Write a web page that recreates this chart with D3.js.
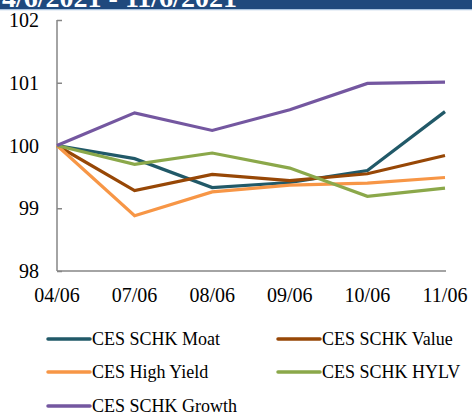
<!DOCTYPE html>
<html>
<head>
<meta charset="utf-8">
<script src="https://cdn.jsdelivr.net/npm/d3@7"></script>
<style>
  html, body { margin: 0; padding: 0; background: #fff; overflow: hidden; }
</style>
</head>
<body>
<svg id="chart" width="472" height="414"></svg>
<script>
const dates = ["04/06", "07/06", "08/06", "09/06", "10/06", "11/06"];
const yTicks = [98, 99, 100, 101, 102];

const moat = [100, 99.79, 99.33, 99.41, 99.60, 100.54];
const value = [100, 99.28, 99.54, 99.44, 99.55, 99.84];
const highYield = [100, 98.88, 99.26, 99.37, 99.40, 99.49];
const hylv = [100, 99.70, 99.88, 99.64, 99.19, 99.32];
const growth = [100, 100.52, 100.24, 100.57, 100.99, 101.01];

const series = [
  { name: "CES SCHK Moat", values: moat, color: "#215968" },
  { name: "CES SCHK Value", values: value, color: "#974706" },
  { name: "CES High Yield", values: highYield, color: "#F79646" },
  { name: "CES SCHK HYLV", values: hylv, color: "#8BA84A" },
  { name: "CES SCHK Growth", values: growth, color: "#7457A0" }
];

const serif = "'Liberation Serif', 'Times New Roman', 'DejaVu Serif', serif";

const svg = d3.select("#chart");

// header strip (title is cropped at the top)
svg.append("text").attr("x", 2).attr("y", 7)
  .attr("fill", "#fff").attr("font-weight", "bold").attr("font-size", 28)
  .style("font-family", serif)
  .text("4/6/2021 - 11/6/2021");
svg.insert("rect", "text").attr("x", 0).attr("y", 0).attr("width", 472).attr("height", 9)
  .attr("fill", "#1F497D");
svg.append("rect").attr("x", 0).attr("y", 9).attr("width", 472).attr("height", 1.5)
  .attr("fill", "#A9C4E0");
svg.append("rect").attr("x", 0).attr("y", 10.5).attr("width", 472).attr("height", 12)
  .attr("fill", "#fff");

const x = d3.scalePoint().domain(dates).range([57, 445]);
const y = d3.scaleLinear().domain([98, 102]).range([271, 20]);

const g = svg.append("g");

// y axis
const yAxis = g.append("g").attr("transform", "translate(57,0)")
  .call(d3.axisRight(y).tickValues(yTicks).tickSize(5).tickFormat(""));
yAxis.select(".domain").attr("stroke", "#868686").attr("stroke-width", 1.5)
  .attr("d", "M0," + y(102) + "V" + y(98));
yAxis.selectAll(".tick line").attr("stroke", "#868686").attr("stroke-width", 1.5);

g.selectAll(".ylab").data(yTicks).join("text")
  .attr("class", "ylab")
  .attr("x", 39).attr("y", d => y(d) + 7)
  .attr("text-anchor", "end").attr("font-size", 20).attr("fill", "#000")
  .style("font-family", serif)
  .text(d => d);

// x axis
g.append("line").attr("x1", 57).attr("x2", 446).attr("y1", y(98)).attr("y2", y(98))
  .attr("stroke", "#868686").attr("stroke-width", 1.5);

g.selectAll(".xlab").data(dates).join("text")
  .attr("class", "xlab")
  .attr("x", d => x(d)).attr("y", 302)
  .attr("text-anchor", "middle").attr("font-size", 20).attr("fill", "#000")
  .style("font-family", serif)
  .text(d => d);

const line = d3.line().x((d, i) => x(dates[i])).y(d => y(d));

g.selectAll(".series").data(series).join("path")
  .attr("class", "series")
  .attr("d", d => line(d.values))
  .attr("fill", "none").attr("stroke", d => d.color).attr("stroke-width", 3.2)
  .attr("stroke-linejoin", "miter");

// legend
const legendPos = [[48, 339], [278, 339], [48, 372], [278, 372], [48, 406]];
const legend = svg.append("g").selectAll("g").data(series).join("g")
  .attr("transform", (d, i) => `translate(${legendPos[i][0]},${legendPos[i][1]})`);
legend.append("line").attr("x1", 0).attr("x2", 42).attr("y1", 0).attr("y2", 0)
  .attr("stroke", d => d.color).attr("stroke-width", 3.5).attr("stroke-linecap", "round");
legend.append("text").attr("x", 44).attr("y", 6).attr("font-size", 18).attr("fill", "#000")
  .style("font-family", serif)
  .text(d => d.name);
</script>
</body>
</html>
